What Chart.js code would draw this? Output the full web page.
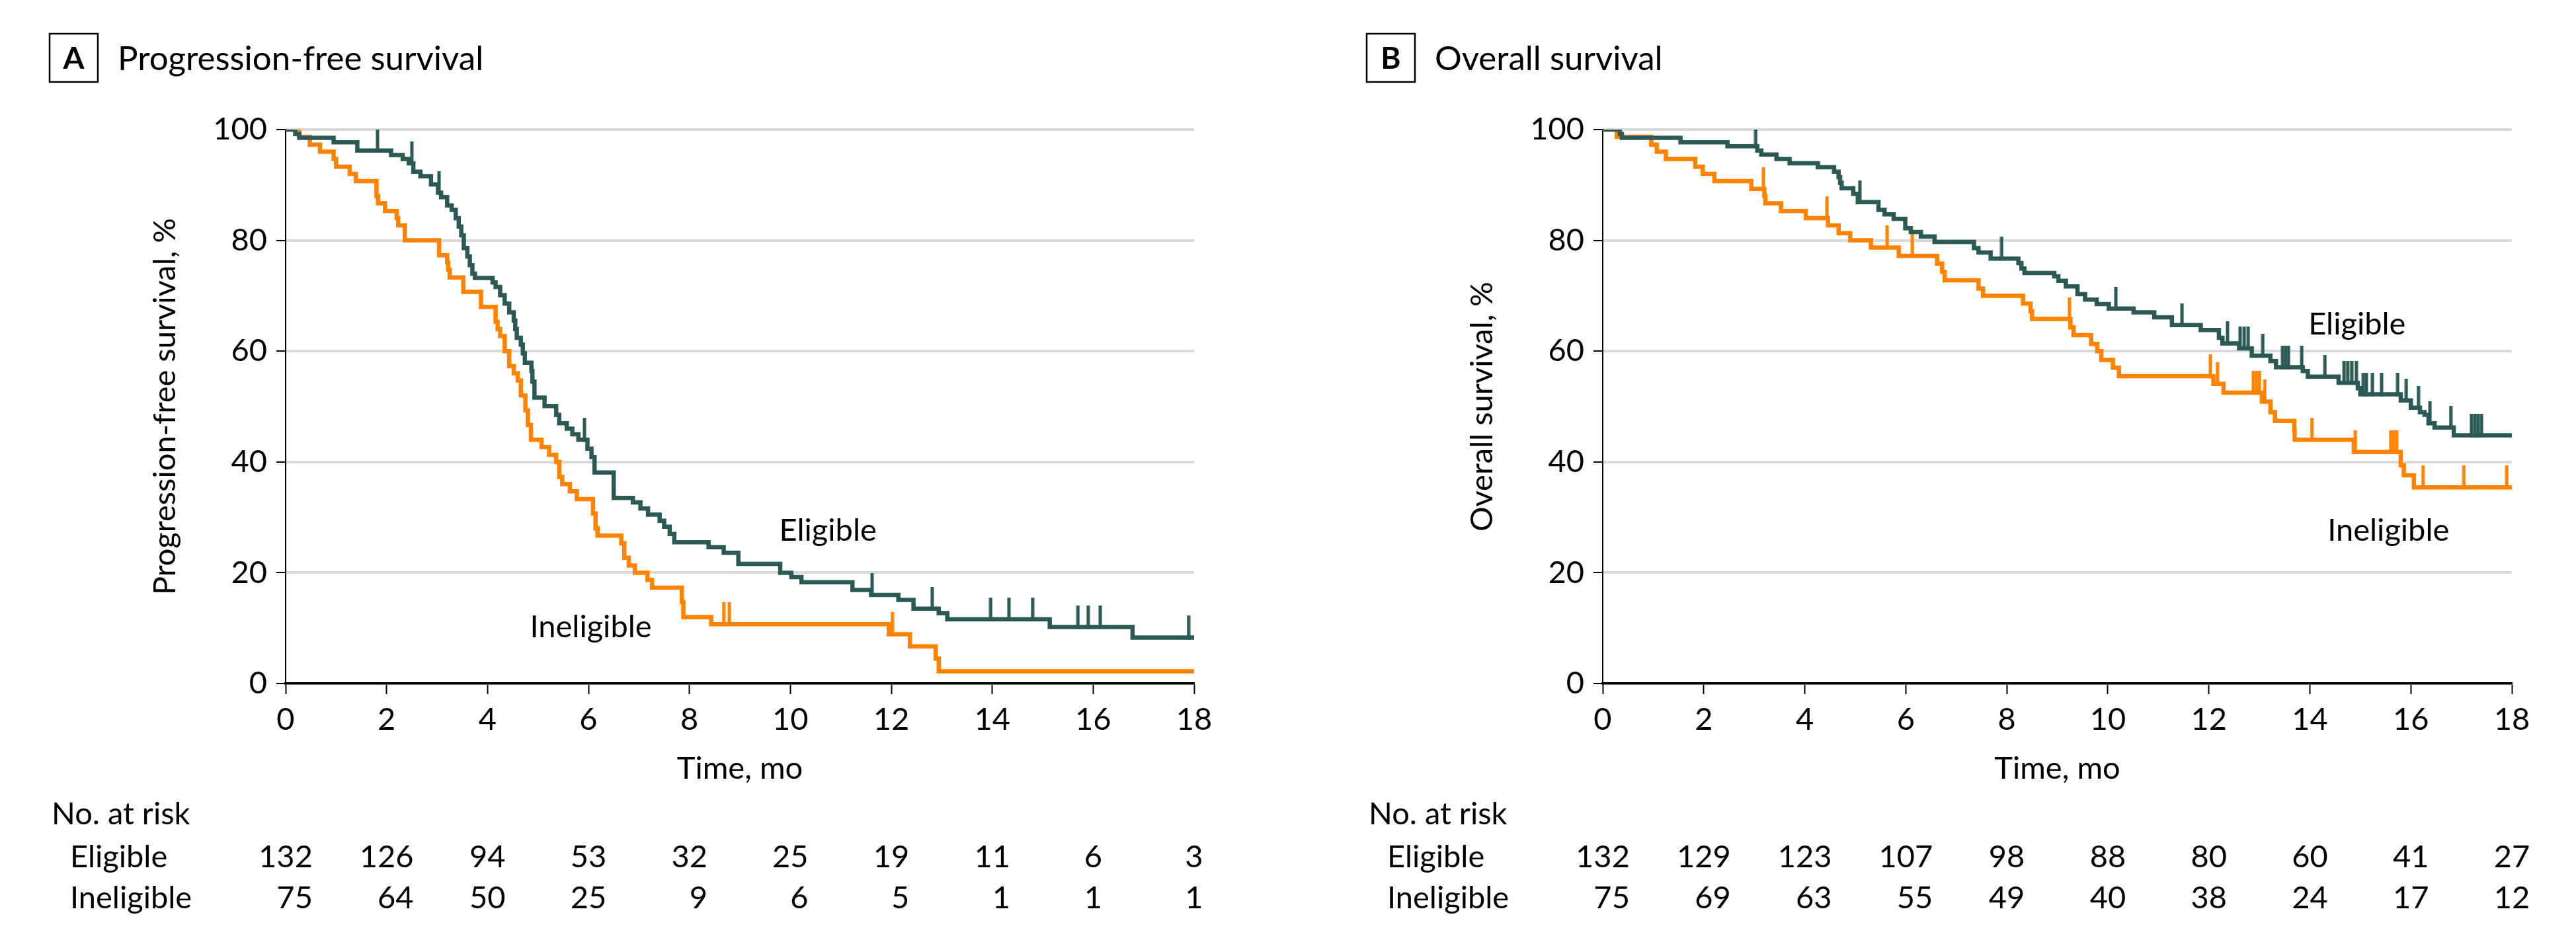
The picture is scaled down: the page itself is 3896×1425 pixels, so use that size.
<!DOCTYPE html>
<html>
<head>
<meta charset="utf-8">
<script src="https://cdn.jsdelivr.net/npm/chart.js@4.4.1/dist/chart.umd.min.js"></script>
<style>
  html, body { margin: 0; padding: 0; background: #fff; }
  #wrap { position: relative; width: 3896px; height: 1425px; }
  canvas { position: absolute; top: 0; }
</style>
</head>
<body>
<div id="wrap">
  <canvas id="pfs" width="1948" height="1425" style="left:0"></canvas>
  <canvas id="os" width="1948" height="1425" style="left:1948px"></canvas>
</div>
<script>
// x ticks (months) used for the axis and the at-risk table
const months = [0, 2, 4, 6, 8, 10, 12, 14, 16, 18];

// A - progression-free survival
const pfsEligTime = [0, 0.19, 0.27, 0.95, 1.42, 2.09, 2.32, 2.44, 2.53, 2.67, 2.88, 3.02, 3.08, 3.2, 3.29, 3.37, 3.43, 3.48, 3.53, 3.6, 3.65, 3.7, 3.75, 4.1, 4.16, 4.25, 4.34, 4.43, 4.52, 4.55, 4.58, 4.66, 4.7, 4.74, 4.87, 4.89, 4.93, 5.13, 5.36, 5.42, 5.57, 5.68, 5.8, 5.98, 6.06, 6.12, 6.5, 6.88, 7.03, 7.18, 7.41, 7.5, 7.61, 7.7, 8.38, 8.68, 8.97, 9.8, 10.02, 10.22, 11.23, 11.6, 12.14, 12.44, 12.94, 13.11, 15.14, 16.78];
const pfsEligSurv = [100, 99.2, 98.5, 97.7, 96.2, 95.4, 94.7, 93.9, 92.4, 91.6, 90.1, 88.6, 87.8, 86.3, 85.5, 84.0, 82.5, 80.9, 78.6, 77.1, 75.5, 74.0, 73.2, 72.4, 71.6, 70.1, 68.6, 67.0, 65.5, 64.0, 62.4, 61.2, 59.6, 57.9, 56.4, 54.5, 51.6, 50.1, 48.5, 47.0, 46.0, 45.0, 44.0, 42.4, 40.9, 38.1, 33.5, 32.7, 31.6, 30.5, 29.4, 28.3, 27.0, 25.5, 24.6, 23.6, 21.6, 20.0, 19.2, 18.3, 16.9, 16.0, 15.1, 13.5, 12.7, 11.6, 10.2, 8.3];
const pfsEligCens = [1.82, 2.5, 3.04, 5.92, 11.62, 12.81, 13.97, 14.33, 14.8, 15.7, 15.9, 16.14, 17.89];

const pfsInelTime = [0, 0.27, 0.48, 0.68, 0.95, 1.0, 1.27, 1.39, 1.8, 1.83, 1.97, 2.2, 2.23, 2.36, 3.04, 3.2, 3.22, 3.25, 3.52, 3.87, 4.16, 4.2, 4.25, 4.34, 4.43, 4.52, 4.6, 4.66, 4.75, 4.8, 4.86, 5.07, 5.22, 5.36, 5.42, 5.48, 5.63, 5.77, 6.09, 6.14, 6.18, 6.65, 6.71, 6.8, 6.92, 7.17, 7.26, 7.85, 7.88, 8.43, 11.95, 12.37, 12.88, 12.94];
const pfsInelSurv = [100, 98.7, 97.3, 96.0, 94.7, 93.3, 92.0, 90.7, 88.0, 86.7, 85.3, 84.0, 82.7, 80.0, 77.3, 76.0, 74.7, 73.3, 70.7, 68.0, 65.3, 64.0, 62.7, 60.0, 57.3, 56.0, 54.7, 52.0, 49.3, 46.7, 44.0, 42.7, 41.3, 40.0, 37.3, 36.0, 34.7, 33.3, 30.7, 28.0, 26.7, 25.3, 22.7, 21.3, 20.0, 18.7, 17.3, 14.7, 12.0, 10.7, 8.9, 6.7, 4.5, 2.2];
const pfsInelCens = [8.68, 8.79, 12.02];

const pfsRiskElig = [132, 126, 94, 53, 32, 25, 19, 11, 6, 3];
const pfsRiskInel = [75, 64, 50, 25, 9, 6, 5, 1, 1, 1];

// B - overall survival
const osEligTime = [0, 0.34, 0.38, 1.54, 2.47, 3.06, 3.14, 3.44, 3.7, 4.26, 4.58, 4.67, 4.7, 4.73, 4.96, 5.05, 5.46, 5.58, 5.76, 5.99, 6.1, 6.3, 6.57, 7.35, 7.44, 7.68, 8.23, 8.29, 8.35, 8.94, 9.02, 9.17, 9.4, 9.55, 9.78, 10.02, 10.51, 10.92, 11.27, 11.84, 12.2, 12.27, 12.6, 12.85, 13.22, 13.33, 13.86, 13.96, 14.57, 14.95, 15.0, 15.8, 16.0, 16.18, 16.27, 16.35, 16.47, 16.85];
const osEligSurv = [100, 99.2, 98.5, 97.7, 97.0, 96.2, 95.5, 94.7, 93.9, 93.2, 92.4, 91.4, 90.4, 89.4, 88.4, 86.9, 85.5, 84.7, 83.9, 82.2, 81.5, 80.7, 79.7, 78.6, 77.8, 76.7, 75.9, 74.9, 74.1, 73.5, 72.7, 71.7, 70.3, 69.3, 68.5, 67.7, 67.0, 66.1, 64.7, 63.8, 62.4, 61.4, 60.5, 59.2, 58.2, 57.1, 56.4, 55.4, 54.3, 53.3, 52.2, 51.1, 49.8, 49.0, 48.5, 47.0, 46.2, 44.8];
const osEligCens = [3.03, 5.09, 7.9, 10.16, 11.47, 12.37, 12.62, 12.7, 12.78, 13.07, 13.46, 13.52, 13.58, 13.84, 14.3, 14.68, 14.75, 14.83, 14.92, 15.06, 15.12, 15.24, 15.42, 15.74, 15.91, 16.15, 16.38, 16.79, 17.2, 17.27, 17.33, 17.4];

const osInelTime = [0, 0.28, 0.96, 1.07, 1.25, 1.83, 1.98, 2.21, 2.94, 3.2, 3.22, 3.53, 4.02, 4.46, 4.67, 4.9, 5.31, 5.86, 6.62, 6.72, 6.77, 7.44, 7.53, 8.32, 8.47, 8.5, 9.26, 9.32, 9.67, 9.79, 9.87, 10.1, 10.22, 12.09, 12.29, 13.05, 13.22, 13.31, 13.69, 13.7, 14.87, 15.8, 15.86, 16.06];
const osInelSurv = [100, 98.7, 97.3, 96.0, 94.7, 93.3, 92.0, 90.7, 89.3, 88.0, 86.7, 85.3, 84.0, 82.7, 81.3, 80.0, 78.7, 77.2, 75.8, 74.3, 72.8, 71.3, 70.0, 68.6, 67.2, 65.8, 64.3, 62.9, 61.3, 60.0, 58.4, 57.0, 55.5, 54.1, 52.5, 50.9, 49.0, 47.4, 45.7, 44.0, 41.8, 39.4, 37.6, 35.4];
const osInelCens = [3.18, 4.44, 5.63, 6.13, 9.24, 12.03, 12.17, 12.88, 12.94, 13.0, 13.11, 14.04, 14.9, 15.6, 15.66, 15.72, 16.24, 17.05, 17.9];

const osRiskElig = [132, 129, 123, 107, 98, 88, 80, 60, 41, 27];
const osRiskInel = [75, 69, 63, 55, 49, 40, 38, 24, 17, 12];

const ELIG = '#2b5955';
const INEL = '#ff8300';
const FONT = 'Lato, "Noto Sans", sans-serif';

function stepPoints(times, surv) {
  const pts = times.map((t, i) => ({ x: t, y: surv[i] }));
  pts.push({ x: 18, y: surv[surv.length - 1] });
  return pts;
}

function survAt(times, surv, t) {
  let s = surv[0];
  for (let i = 0; i < times.length; i++) {
    if (times[i] <= t) s = surv[i];
  }
  return s;
}

function censorPoints(times, surv, cens) {
  return cens.map(t => ({ x: t, y: survAt(times, surv, t) }));
}

// censor tick: a short vertical bar sitting on top of the curve
function tickMark(color) {
  const c = document.createElement('canvas');
  c.width = 6;
  c.height = 66;
  const g = c.getContext('2d');
  g.fillStyle = color;
  g.fillRect(0.5, 0, 5, 36);
  return c;
}

const panelDecor = {
  id: 'panelDecor',
  afterDraw(chart, args, opts) {
    const { ctx, chartArea } = chart;
    const xs = chart.scales.x;
    const ys = chart.scales.y;
    const L = chartArea.left;
    ctx.save();
    ctx.fillStyle = '#000';
    ctx.strokeStyle = '#000';
    ctx.lineWidth = 2.5;
    ctx.strokeRect(L - 357, 51, 73, 73);
    ctx.font = 'bold 46px ' + FONT;
    ctx.textAlign = 'center';
    ctx.textBaseline = 'alphabetic';
    ctx.fillText(opts.letter, L - 320.5, 104);
    ctx.font = '51px ' + FONT;
    ctx.textAlign = 'left';
    ctx.fillText(opts.title, L - 254, 106);

    ctx.font = '47px ' + FONT;
    opts.labels.forEach(lb => {
      ctx.fillText(lb.text, xs.getPixelForValue(lb.x), ys.getPixelForValue(lb.y));
    });

    ctx.fillText('No. at risk', L - 354, 1247);
    ctx.fillText('Eligible', L - 326, 1312);
    ctx.fillText('Ineligible', L - 326, 1374);
    ctx.textAlign = 'right';
    months.forEach((m, i) => {
      const a = String(opts.riskElig[i]);
      const b = String(opts.riskInel[i]);
      const w = Math.max(ctx.measureText(a).width, ctx.measureText(b).width);
      const xr = xs.getPixelForValue(m) + w / 2;
      ctx.fillText(a, xr, 1312);
      ctx.fillText(b, xr, 1374);
    });
    ctx.restore();
  }
};

function makeChart(id, p) {
  const tickFont = { family: FONT, size: 47 };
  return new Chart(document.getElementById(id), {
    type: 'line',
    data: {
      datasets: [
        { label: 'Eligible', data: stepPoints(p.eligT, p.eligS), borderColor: ELIG, borderWidth: 6.5,
          stepped: 'before', pointRadius: 0, fill: false, order: 1 },
        { label: 'Eligible censored', data: censorPoints(p.eligT, p.eligS, p.eligC), showLine: false,
          pointStyle: tickMark(ELIG), pointRadius: 3, order: 0 },
        { label: 'Ineligible', data: stepPoints(p.inelT, p.inelS), borderColor: INEL, borderWidth: 6.5,
          stepped: 'before', pointRadius: 0, fill: false, order: 3 },
        { label: 'Ineligible censored', data: censorPoints(p.inelT, p.inelS, p.inelC), showLine: false,
          pointStyle: tickMark(INEL), pointRadius: 3, order: 2 }
      ]
    },
    options: {
      responsive: false,
      animation: false,
      devicePixelRatio: 1,
      layout: { padding: { left: p.padLeft, right: p.padRight, top: 196, bottom: 233 } },
      plugins: {
        legend: { display: false },
        tooltip: { enabled: false },
        panelDecor: { letter: p.letter, title: p.title, labels: p.labels, riskElig: p.riskElig, riskInel: p.riskInel }
      },
      scales: {
        x: {
          type: 'linear', min: 0, max: 18,
          afterFit: s => { s.height = 158; },
          ticks: { stepSize: 2, autoSkip: false, maxRotation: 0, padding: 11, color: '#000', font: tickFont },
          grid: { drawOnChartArea: false, tickLength: 16, tickColor: '#000', tickWidth: 2 },
          border: { color: '#000', width: 3.5 },
          title: { display: true, text: 'Time, mo', color: '#000', font: tickFont, padding: { top: 0, bottom: 1 } }
        },
        y: {
          min: 0, max: 100,
          afterFit: s => { s.width = 210; },
          ticks: { stepSize: 20, padding: 14, color: '#000', font: tickFont },
          grid: { color: '#dadada', lineWidth: 4, tickLength: 14, tickColor: '#000', tickWidth: 2 },
          border: { color: '#000', width: 2 },
          title: { display: true, text: p.yTitle, color: '#000', font: tickFont, padding: { top: 0, bottom: 0 } }
        }
      }
    },
    plugins: [panelDecor]
  });
}

function draw() {
  makeChart('pfs', {
    letter: 'A', title: 'Progression-free survival', yTitle: 'Progression-free survival, %',
    padLeft: 222, padRight: 142,
    eligT: pfsEligTime, eligS: pfsEligSurv, eligC: pfsEligCens,
    inelT: pfsInelTime, inelS: pfsInelSurv, inelC: pfsInelCens,
    riskElig: pfsRiskElig, riskInel: pfsRiskInel,
    labels: [{ text: 'Eligible', x: 9.78, y: 25.8 }, { text: 'Ineligible', x: 4.84, y: 8.35 }]
  });
  makeChart('os', {
    letter: 'B', title: 'Overall survival', yTitle: 'Overall survival, %',
    padLeft: 266, padRight: 97,
    eligT: osEligTime, eligS: osEligSurv, eligC: osEligCens,
    inelT: osInelTime, inelS: osInelSurv, inelC: osInelCens,
    riskElig: osRiskElig, riskInel: osRiskInel,
    labels: [{ text: 'Eligible', x: 13.97, y: 63.0 }, { text: 'Ineligible', x: 14.35, y: 25.8 }]
  });
}

Promise.all([
  document.fonts.load('47px Lato'),
  document.fonts.load('bold 46px Lato')
]).then(draw, draw);
</script>
</body>
</html>
